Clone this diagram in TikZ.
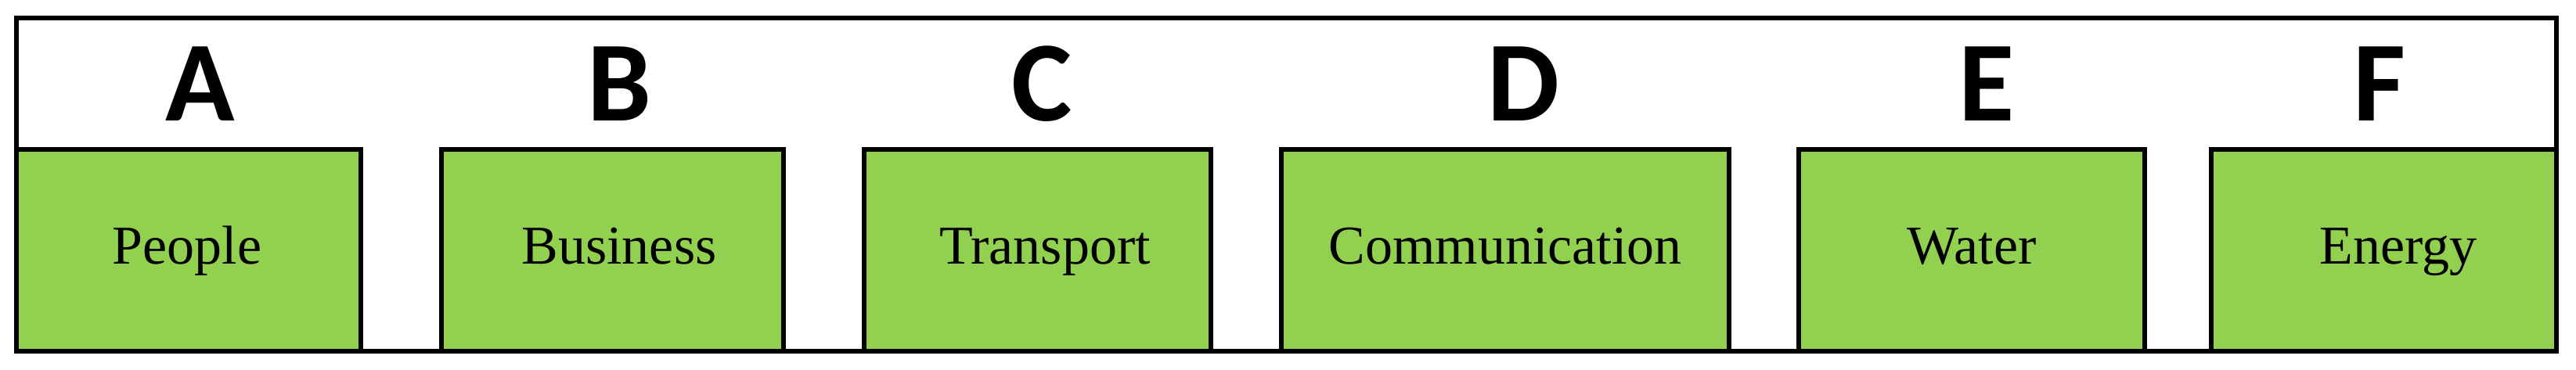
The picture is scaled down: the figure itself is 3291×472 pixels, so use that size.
\documentclass[tikz,border=0pt]{standalone}
\usepackage{fontspec}
\setmainfont{Liberation Serif}
\newfontfamily\letterfont{Carlito}
\definecolor{boxgreen}{HTML}{92D050}
\begin{document}
\begin{tikzpicture}[x=1pt,y=-1pt,
  outerframe/.style={draw=black, line width=6pt, minimum width=3245pt, minimum height=426pt, inner sep=0pt},
  greenbox/.style={draw=black, line width=6pt, fill=boxgreen, minimum height=258pt, inner sep=0pt},
  letter/.style={anchor=base, inner sep=0pt, font=\letterfont\bfseries\fontsize{146}{146}\selectfont},
  boxtext/.style={anchor=base, inner sep=0pt, font=\fontsize{70}{70}\selectfont}]
\useasboundingbox (0,0) rectangle (3291,472);
\node[outerframe] (frame) at (1643.5,236) {};
\node[greenbox, minimum width=440pt] (bA) at (241,320) {};
\node[greenbox, minimum width=437pt] (bB) at (782.5,320) {};
\node[greenbox, minimum width=443pt] (bC) at (1325.5,320) {};
\node[greenbox, minimum width=572pt] (bD) at (1923,320) {};
\node[greenbox, minimum width=442pt] (bE) at (2519,320) {};
\node[greenbox, minimum width=441pt] (bF) at (3045.5,320) {};
\node[letter] (lA) at (256,154) {A};
\node[letter] (lB) at (791,154) {B};
\node[letter] (lC) at (1331,154) {C};
\node[letter] (lD) at (1946,154) {D};
\node[letter] (lE) at (2538,154) {E};
\node[letter] (lF) at (3040,154) {F};
\node[boxtext] (tA) at (239,337) {People};
\node[boxtext] (tB) at (791,337) {Business};
\node[boxtext] (tC) at (1335,337) {Transport};
\node[boxtext] (tD) at (1923,337) {Communication};
\node[boxtext] (tE) at (2519,337) {Water};
\node[boxtext] (tF) at (3064,337) {Energy};
\end{tikzpicture}
\end{document}
